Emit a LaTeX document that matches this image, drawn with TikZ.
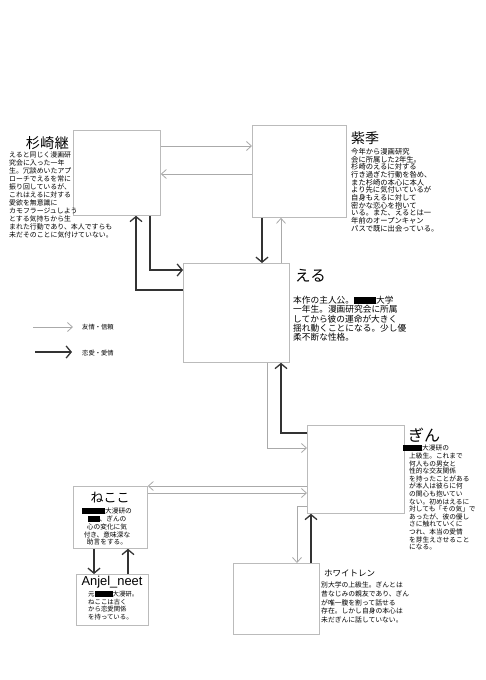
\documentclass[tikz,border=0pt]{standalone}
\usepackage{fontspec}
\setmainfont{Noto Sans CJK JP}
\newfontfamily\latinfont{Liberation Sans}
\usetikzlibrary{arrows.meta}
\definecolor{linegray}{HTML}{AAAAAA}
\definecolor{boxgray}{HTML}{BBBBBB}
\definecolor{linedark}{HTML}{333333}
\newcommand\blackout[1]{\rule[-0.1em]{#1}{0.9em}}
\tikzset{
  box/.style={draw=boxgray,line width=0.8pt,inner sep=0pt,anchor=north west},
  txt/.style 2 args={font=\fontsize{#1}{#2}\selectfont,align=left,inner sep=0pt,anchor=north west},
  ttl/.style={font=\fontsize{#1}{#1}\selectfont,inner sep=0pt},
  fr/.style={draw=linegray,line width=0.8pt,-{Straight Barb[length=5pt,width=9pt]}},
  lv/.style={draw=linedark,line width=1.3pt,-{Straight Barb[length=5pt,width=12pt]}},
}

\begin{document}
\begin{tikzpicture}[x=1pt,y=-1pt]
\useasboundingbox (0,0) rectangle (486,680);

% boxes
\node[box,minimum width=87pt,minimum height=85pt] (sug) at (73,130) {};
\node[box,minimum width=94pt,minimum height=92pt] (shiki) at (252,125) {};
\node[box,minimum width=106pt,minimum height=99pt] (eru) at (183,263) {};
\node[box,minimum width=97pt,minimum height=88pt] (gin) at (307,425) {};
\node[box,minimum width=74pt,minimum height=62pt] (neko) at (73,486) {};
\node[box,minimum width=72pt,minimum height=51pt] (anjel) at (76,574) {};
\node[box,minimum width=86pt,minimum height=71pt] (white) at (233,563) {};

% names and notes
\node[ttl=14.3,anchor=east] (sugname) at (69,143) {杉崎継};
\node[txt={6.9}{8}] (sugnote) at (9,151.5) {えると同じく漫画研\\究会に入った一年\\生。冗談めいたアプ\\ローチでえるを常に\\振り回しているが、\\これはえるに対する\\愛欲を無意識に\\カモフラージュしよう\\とする気持ちから生\\まれた行動であり、本人ですらも\\未だそのことに気付けていない。};

\node[ttl=14,anchor=west] (shikiname) at (351,138) {紫季};
\node[txt={7.3}{7.7}] (shikinote) at (351,148) {今年から漫画研究\\会に所属した2年生。\\杉崎のえるに対する\\行き過ぎた行動を咎め、\\また杉崎の本心に本人\\より先に気付いているが\\自身もえるに対して\\密かな恋心を抱いて\\いる。また、えるとは一\\年前のオープンキャン\\パスで既に出会っている。};

\node[ttl=15.5,anchor=west] (eruname) at (295,276) {える};
\node[txt={8.7}{9.3}] (erunote) at (293,296) {本作の主人公。\blackout{22pt}大学\\一年生。漫画研究会に所属\\してから彼の運命が大きく\\揺れ動くことになる。少し優\\柔不断な性格。};

\node[ttl=16,anchor=west] (ginname) at (408,435) {ぎん};
\node[txt={6.7}{7.6}] (ginnote) at (409,445) {\hspace*{-6pt}\blackout{19pt}大漫研の\\上級生。これまで\\何人もの男女と\\性的な交友関係\\を持ったことがある\\が本人は彼らに何\\の関心も抱いてい\\ない。初めはえるに\\対しても「その気」で\\あったが、彼の優し\\さに触れていくに\\つれ、本当の愛情\\を芽生えさせること\\になる。};

\node[ttl=13] (nekoname) at (110,498) {ねここ};
\node[txt={6.7}{7.75},align=center,anchor=north] (nekonote) at (107,508) {\blackout{23pt}大漫研の\\\blackout{12pt}、ぎんの\\心の変化に気\\付き、意味深な\\助言をする。};

\node[ttl=12.9,font=\latinfont\fontsize{12.9}{12.9}\selectfont] (anjelname) at (112,582) {Anjel\_neet};
\node[txt={6.4}{7.6}] (anjelnote) at (88,591) {元\blackout{18pt}大漫研。\\ねここは古く\\から恋愛関係\\を持っている。};

\node[ttl=8.5,anchor=west] (whitename) at (324,573) {ホワイトレン};
\node[txt={6.8}{8.6}] (whitenote) at (321,582) {別大学の上級生。ぎんとは\\昔なじみの親友であり、ぎん\\が唯一腹を割って話せる\\存在。しかし自身の本心は\\未だぎんに話していない。};

% legend
\coordinate (frstart) at (33,327);
\node[ttl=6.3,anchor=west] (frlabel) at (82,327) {友情・信頼};
\draw[fr] (frstart) -- ([xshift=-9pt]frlabel.west);
\coordinate (lvstart) at (35,352);
\node[ttl=6.3,anchor=west] (lvlabel) at (82,353) {恋愛・愛情};
\draw[lv] (lvstart) -- ([xshift=-10pt,yshift=1pt]lvlabel.west);

% connectors
\draw[fr] ([yshift=-16pt]sug.north east) -- ([yshift=-21pt]shiki.north west);
\draw[fr] ([yshift=-49pt]shiki.north west) -- ([yshift=-44pt]sug.north east);
\draw[lv] ([xshift=10pt]shiki.south west) -- ([xshift=79pt]eru.north west);
\draw[fr] ([xshift=98pt]eru.north west) -- ([xshift=29pt]shiki.south west);
\draw[lv] ([xshift=77pt]sug.south west) |- ([yshift=-7pt]eru.north west);
\draw[lv] ([yshift=-27pt]eru.north west) -| ([xshift=63pt]sug.south west);
\draw[lv] ([yshift=-8pt]gin.north west) -| ([xshift=98pt]eru.south west);
\draw[fr] ([xshift=84pt]eru.south west) |- ([yshift=-23pt]gin.north west);
\draw[fr] ([yshift=-61pt]gin.north west) -- (neko.north east);
\draw[fr] ([yshift=-7pt]neko.north east) -- ([yshift=-68pt]gin.north west);
\draw[fr] ([yshift=7pt]gin.south west) -| ([xshift=64pt]white.north west);
\draw[lv] ([xshift=78pt]white.north west) -- ([xshift=4pt]gin.south west);
\draw[lv] ([xshift=21pt]neko.south west) -- ([xshift=18pt]anjel.north west);
\draw[lv] ([xshift=52pt]anjel.north west) -- ([xshift=55pt]neko.south west);
\end{tikzpicture}
\end{document}
